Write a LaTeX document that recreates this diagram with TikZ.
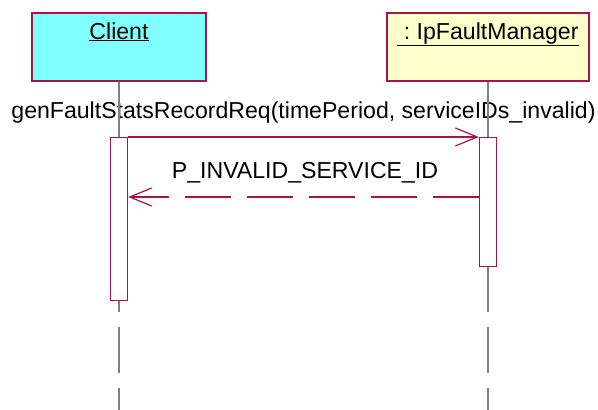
\documentclass[tikz,border=0pt]{standalone}
\usepackage{fontspec}
\setmainfont{Liberation Sans}
\usetikzlibrary{arrows.meta,positioning}
\definecolor{umlred}{RGB}{168,20,68}
\definecolor{umlcyan}{RGB}{128,255,255}
\definecolor{umlyellow}{RGB}{255,255,204}

\begin{document}
\begin{tikzpicture}[x=1pt, y=-1pt, every node/.style={font=\fontsize{23.1}{27}\selectfont},
		obj/.style={draw=umlred, line width=1.2pt, minimum height=68pt, inner sep=0pt},
		act/.style={draw=umlred, fill=white, line width=1.2pt, minimum width=17pt, inner sep=0pt, anchor=north},
		life/.style={draw=gray, line width=2pt},
		msg/.style={draw=umlred, line width=1.2pt, -{Straight Barb[length=22pt, width=18pt]}}]
			\useasboundingbox (0,0) rectangle (598,410);
			\coordinate (top) at (0,137);
			\coordinate (dashstart) at (0,266);
			\coordinate (reply) at (0,197);
			\coordinate (bottom) at (0,410);
			
			\node[obj, fill=umlcyan, minimum width=174pt] (client) at (119,47) {};
			\node[obj, fill=umlyellow, minimum width=202pt] (mgr) at (488,47) {};
			\node[anchor=base] (clientlbl) at (119,39) {\underline{Client}};
			\node[anchor=base] (mgrlbl) at (488,39) {\underline{\ :\ IpFaultManager}};
			
			\node[anchor=base] (callmsg) at (303.5,118) {genFaultStatsRecordReq(timePeriod, serviceIDs\_invalid)};
			\node[anchor=base] (replymsg) at (305,178) {P\_INVALID\_SERVICE\_ID};
			
			\draw[life] (client.south) -- (client.south |- top);
			\draw[life] (mgr.south) -- (mgr.south |- top);
			\draw[life, dash pattern=on 46pt off 15pt] (client.south |- dashstart) -- (client.south |- bottom);
			\draw[life, dash pattern=on 46pt off 15pt] (mgr.south |- dashstart) -- (mgr.south |- bottom);
			
			\node[act, minimum height=163pt] (clientact) at (client.south |- top) {};
			\node[act, minimum height=129pt] (mgract) at (mgr.south |- top) {};
			
			\draw[msg] (clientact.north east) -- (mgract.north west);
			\draw[msg, dash pattern=on 46pt off 16pt] (mgract.west |- reply) -- (clientact.east |- reply);
		\end{tikzpicture}
\end{document}
